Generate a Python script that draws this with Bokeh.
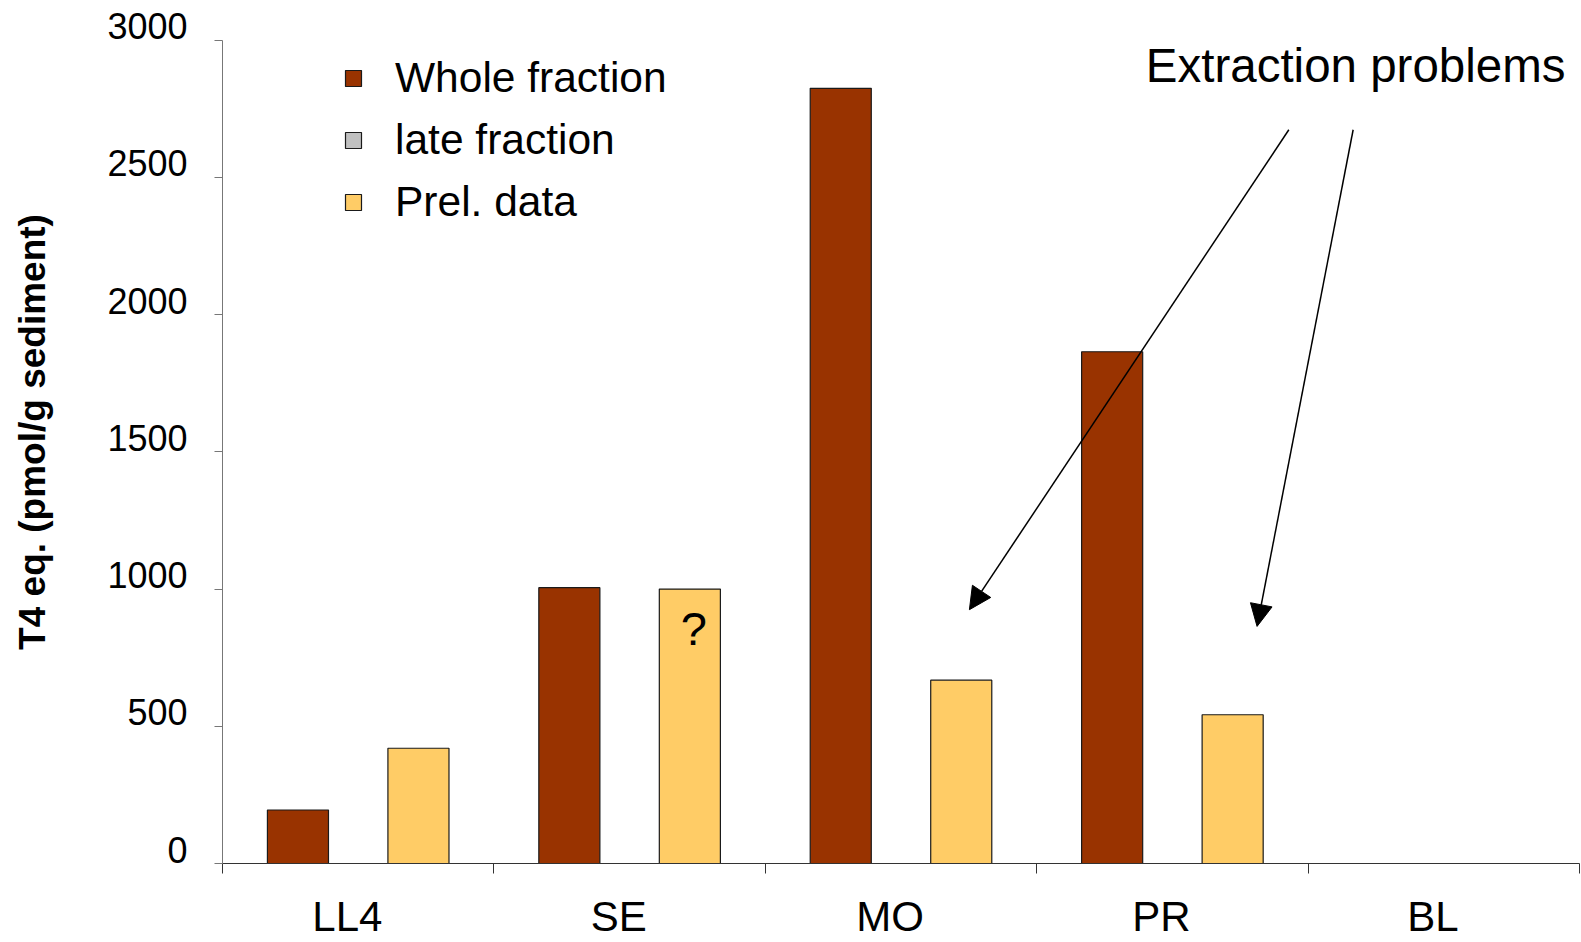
from bokeh.plotting import figure
from bokeh.models import (Range1d, LinearAxis, FixedTicker, Label, Arrow, NormalHead,
                          Legend, LegendItem, ColumnDataSource)
from bokeh.embed import file_html
from bokeh.resources import INLINE

# ---- data -------------------------------------------------------------
categories = ["LL4", "SE", "MO", "PR", "BL"]
whole_fraction = [195, 1005, 2825, 1865, 0]
late_fraction = [0, 0, 0, 0, 0]
prel_data = [420, 1000, 668, 542, 0]
y_ticks = [0, 500, 1000, 1500, 2000, 2500, 3000]
series_names = ["Whole fraction", "late fraction", "Prel. data"]
series_colors = ["#993300", "#C0C0C0", "#FFCC66"]

FONT = "Liberation Sans"
Y_TOP = 3145          # frame runs to the top of the page; the axis itself stops at 3000
LABEL_SHIFT = 51      # tick labels sit ~14 px above their ticks, as in the original

p = figure(width=1581, height=942, output_backend="svg", toolbar_location=None,
           x_range=Range1d(0, len(categories)), y_range=Range1d(0, Y_TOP),
           x_axis_type=None, y_axis_type=None,
           min_border_left=222, min_border_right=2, min_border_top=0, min_border_bottom=79)
p.outline_line_color = None
p.background_fill_color = "white"
p.border_fill_color = "white"
p.extra_y_ranges = {"labels": Range1d(-LABEL_SHIFT, Y_TOP - LABEL_SHIFT)}

idx = list(range(len(categories)))
bar_w = 0.225
offsets = [-0.222, 0.0, 0.222]


def make_src(vals, off, keep_zero=False):
    xs = [i + 0.5 + off for i, v in zip(idx, vals) if (v > 0 or keep_zero)]
    tops = [v for v in vals if (v > 0 or keep_zero)]
    return ColumnDataSource(dict(x=xs, top=tops))


renderers = []
for k, (vals, off, col) in enumerate(zip([whole_fraction, late_fraction, prel_data], offsets, series_colors)):
    r = p.vbar(x="x", top="top", bottom=0, width=bar_w, source=make_src(vals, off, keep_zero=(k == 1)),
               fill_color=col, line_color="#1a1a1a", line_width=1.2)
    renderers.append(r)

# ---- axes -------------------------------------------------------------
yaxis = LinearAxis(ticker=FixedTicker(ticks=y_ticks), bounds=(0, 3000),
                   axis_line_color="#777777", major_tick_line_color="#777777",
                   major_tick_out=8, major_tick_in=0, minor_tick_out=0, minor_tick_in=0,
                   major_label_text_font_size="0px", major_label_text_color=None,
                   major_label_standoff=0)
p.add_layout(yaxis, "left")

ylabels = LinearAxis(y_range_name="labels", ticker=FixedTicker(ticks=y_ticks),
                     axis_line_color=None, major_tick_line_color=None,
                     major_tick_out=0, major_tick_in=0, minor_tick_out=0, minor_tick_in=0,
                     major_label_text_font=FONT, major_label_text_font_size="36px",
                     major_label_text_color="black", major_label_standoff=27,
                     axis_label="T4 eq. (pmol/g sediment)", axis_label_standoff=51,
                     axis_label_text_font=FONT, axis_label_text_font_size="37px",
                     axis_label_text_font_style="bold", axis_label_text_color="black")
p.add_layout(ylabels, "left")

label_pos = [i + 0.46 for i in idx]
xaxis = LinearAxis(ticker=FixedTicker(ticks=label_pos,
                                      minor_ticks=[float(i) for i in range(len(categories) + 1)]),
                   major_label_overrides={pos: c for pos, c in zip(label_pos, categories)},
                   axis_line_color="#333333", minor_tick_line_color="#333333",
                   major_tick_out=0, major_tick_in=0, minor_tick_out=10, minor_tick_in=0,
                   major_label_text_font=FONT, major_label_text_font_size="42px",
                   major_label_text_color="black", major_label_standoff=19)
p.add_layout(xaxis, "below")

# ---- legend -----------------------------------------------------------
legend = Legend(items=[LegendItem(label=n, renderers=[r]) for n, r in zip(series_names, renderers)],
                location=(121, 637), orientation="vertical",
                glyph_width=20, glyph_height=20, label_height=47,
                label_text_font=FONT, label_text_font_size="42.5px", label_text_color="black",
                label_standoff=32, spacing=14, padding=0, margin=0,
                border_line_color=None, background_fill_alpha=0)
p.add_layout(legend)

# ---- annotations ------------------------------------------------------
p.add_layout(Label(x=1 + 0.5 + offsets[2] + 0.015, y=prel_data[1] - 144, text="?", text_align="center",
                   text_baseline="middle", text_font=FONT, text_font_size="47px",
                   text_color="black"))

p.add_layout(Label(x=3.402, y=2908, text="Extraction problems", text_align="left",
                   text_baseline="middle", text_font=FONT, text_font_size="47.5px",
                   text_color="black"))

for xs, ys, xe, ye in [(3.929, 2674, 2.752, 925), (4.166, 2674, 3.812, 864)]:
    p.add_layout(Arrow(end=NormalHead(size=22, fill_color="black", line_color="black"),
                       x_start=xs, y_start=ys, x_end=xe, y_end=ye,
                       line_color="black", line_width=1.5))

open("out.html", "w").write(file_html(p, INLINE))
